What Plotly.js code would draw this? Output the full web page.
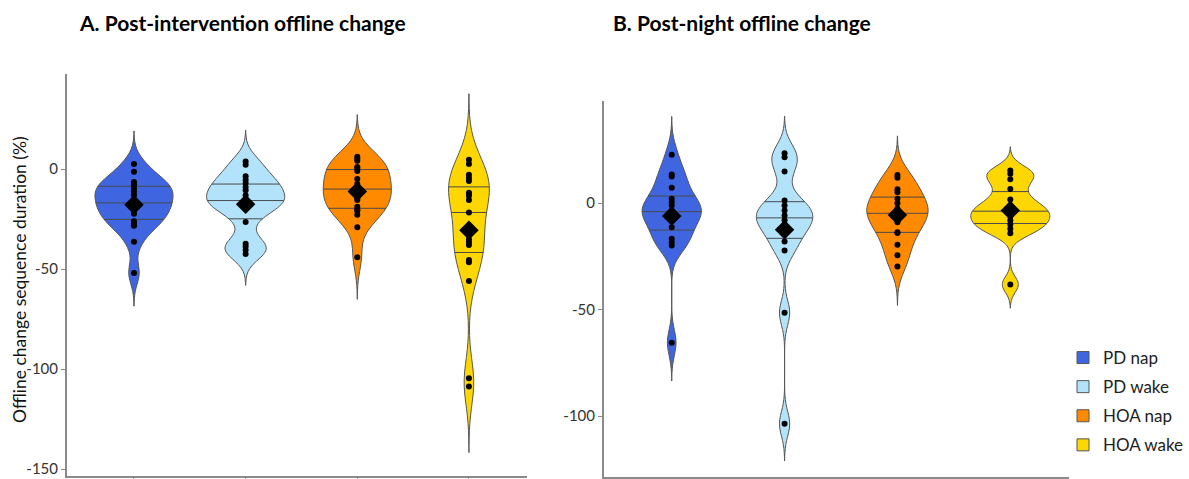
<!DOCTYPE html>
<html><head><meta charset="utf-8">
<script src="https://cdn.plot.ly/plotly-3.0.1.min.js"></script>
<style>html,body{margin:0;padding:0;background:#fff}</style>
</head><body><div id="chart" style="width:1189px;height:479px"></div>
<script>
// ---- data ----
const groups = ['PD nap', 'PD wake', 'HOA nap', 'HOA wake'];
const colors = ['#3F66E0', '#B3E3FB', '#FF8A00', '#FFD700'];

// Panel A: Post-intervention offline change (%)
const A_PDnap  = [2.5, -1.3, -6.5, -7.3, -8.2, -9.8, -11.4, -13.1, -16.3, -17.5, -18.8, -20.5, -22.4, -26.1, -27.5, -28.3, -36.3, -52.0];
const A_PDwake = [3.8, 2.1, -3.6, -5.4, -7.0, -9.0, -10.6, -13.1, -15.0, -16.5, -17.5, -18.5, -20.0, -26.5, -37.3, -38.7, -40.5, -42.5];
const A_HOAnap = [6.2, 5.2, 4.1, 1.0, 0.5, -1.0, -5.0, -7.5, -9.0, -10.0, -11.0, -14.7, -15.5, -18.8, -20.4, -20.9, -22.9, -29.1, -44.1];
const A_HOAwake = [4.6, 2.5, -2.9, -4.5, -6.0, -11.8, -12.5, -13.4, -15.5, -21.7, -29.0, -35.1, -36.4, -37.9, -45.5, -46.6, -55.9, -104.6, -108.7];

// Panel B: Post-night offline change (%)
const B_PDnap  = [22.7, 13.5, 12.5, 7.2, 2.1, 0.5, -1.1, -3.4, -4.5, -6.6, -7.8, -11.3, -16.7, -18.3, -19.9, -65.5];
const B_PDwake = [23.5, 21.6, 14.9, 1.3, -1.1, -3.4, -5.8, -8.0, -10.0, -12.0, -18.0, -22.2, -51.5, -103.6];
const B_HOAnap = [13.3, 12.0, 6.5, 5.2, 2.1, 0.0, -2.5, -4.0, -5.5, -6.5, -8.9, -13.6, -14.0, -19.5, -24.4, -29.7];
const B_HOAwake = [15.4, 13.8, 11.3, 6.7, 1.7, -1.0, -3.0, -4.5, -6.2, -8.1, -10.0, -12.0, -14.1, -38.2];

// kernel bandwidths per violin (smoothing setting)
const bwA = [5.5, 5.2, 7.0, 11.0];
const bwB = [6.0, 5.8, 6.1, 3.7];

// ---- helpers ----
function mean(a) { return a.reduce((s, v) => s + v, 0) / a.length; }
function quantile(a, p) {
  const s = a.slice().sort((x, y) => x - y);
  const pos = p * (s.length - 1), lo = Math.floor(pos), hi = Math.ceil(pos);
  return s[lo] + (s[hi] - s[lo]) * (pos - lo);
}
function kde(vals, bw) {
  const f = 1 / (vals.length * bw * Math.sqrt(2 * Math.PI));
  return x => vals.reduce((s, v) => { const u = (x - v) / bw; return s + Math.exp(-0.5 * u * u); }, 0) * f;
}

const GAP = 0.3;                       // violingap
const HALF = 0.5 * (1 - GAP);          // half width of the widest violin (x units)

function panelTraces(sets, bws, xa, ya, sg, showLegend) {
  const traces = [];
  let gmax = 0;
  sets.forEach((d, i) => {
    const k = kde(d, bws[i]);
    const lo = Math.min(...d) - 3 * bws[i], hi = Math.max(...d) + 3 * bws[i];
    for (let t = lo; t <= hi; t += bws[i] / 20) gmax = Math.max(gmax, k(t));
  });
  sets.forEach((d, i) => {
    traces.push({
      type: 'violin', x0: i, y: d, name: groups[i],
      xaxis: xa, yaxis: ya,
      fillcolor: colors[i], line: {color: '#555555', width: 1},
      bandwidth: bws[i], spanmode: 'manual',
      span: [Math.min(...d) - 3 * bws[i], Math.max(...d) + 3 * bws[i]],
      scalegroup: sg, scalemode: 'width',
      points: false, box: {visible: false}, meanline: {visible: false},
      opacity: 1, showlegend: showLegend, legendgroup: groups[i],
      hoverinfo: 'skip'
    });
  });
  const qx = [], qy = [];
  sets.forEach((d, i) => {
    const k = kde(d, bws[i]);
    [0.25, 0.5, 0.75].forEach(p => {
      const q = quantile(d, p);
      const hw = HALF * k(q) / gmax;
      qx.push(i - hw, i + hw, null); qy.push(q, q, null);
    });
  });
  traces.push({type: 'scatter', mode: 'lines', x: qx, y: qy, xaxis: xa, yaxis: ya,
    line: {color: '#4a4a4a', width: 1}, showlegend: false, hoverinfo: 'skip'});
  const px = [], py = [];
  sets.forEach((d, i) => d.forEach(v => { px.push(i); py.push(v); }));
  traces.push({type: 'scatter', mode: 'markers', x: px, y: py, xaxis: xa, yaxis: ya,
    marker: {color: '#000', size: 6}, showlegend: false});
  traces.push({type: 'scatter', mode: 'markers', x: sets.map((d, i) => i), y: sets.map(mean),
    xaxis: xa, yaxis: ya, marker: {color: '#000', size: 15, symbol: 'diamond'}, showlegend: false});
  return traces;
}

const data = [
  ...panelTraces([A_PDnap, A_PDwake, A_HOAnap, A_HOAwake], bwA, 'x', 'y', 'A', true),
  ...panelTraces([B_PDnap, B_PDwake, B_HOAnap, B_HOAwake], bwB, 'x2', 'y2', 'B', false)
];

const W = 1189, H = 479;
const xax = (l, r) => ({
  domain: [l / W, r / W], type: 'linear', range: [-0.6, 3.52],
  showline: true, linecolor: '#8a8a8a', linewidth: 2,
  ticks: 'outside', tickvals: [0, 1, 2, 3], ticktext: ['', '', '', ''],
  ticklen: 4, tickcolor: '#8a8a8a', showgrid: false, zeroline: false, fixedrange: true
});
const yax = (top, bot, range, tv) => ({
  domain: [(H - bot) / H, (H - top) / H], range: range,
  showline: true, linecolor: '#8a8a8a', linewidth: 2,
  ticks: 'outside', ticklen: 4, tickcolor: '#8a8a8a',
  tickvals: tv, ticktext: tv.map(String), ticklabeloverflow: 'allow',
  tickfont: {family: 'Lato, sans-serif', size: 15, color: '#333'},
  showgrid: false, zeroline: false
});

const layout = {
  width: W, height: H,
  margin: {l: 0, r: 0, t: 0, b: 0},
  paper_bgcolor: '#fff', plot_bgcolor: '#fff',
  violinmode: 'overlay', violingap: GAP, violingroupgap: 0,
  xaxis: Object.assign(xax(67, 527), {anchor: 'y'}),
  yaxis: Object.assign(yax(74, 476, [-153.4, 47.5], [-150, -100, -50, 0]), {anchor: 'x'}),
  xaxis2: Object.assign(xax(604, 1069), {anchor: 'y2'}),
  yaxis2: Object.assign(yax(101, 477, [-128.6, 48], [-100, -50, 0]), {anchor: 'x2'}),
  showlegend: true,
  legend: {x: 1063 / W, y: (H - 340) / H, xanchor: 'left', yanchor: 'top',
    font: {family: 'Lato, sans-serif', size: 17, color: '#222'},
    tracegroupgap: 4, bgcolor: 'rgba(0,0,0,0)', itemclick: false},
  annotations: [
    {text: '<b>A. Post-intervention offline change</b>', xref: 'paper', yref: 'paper',
     x: 77 / W, y: (H - 23) / H, xanchor: 'left', yanchor: 'middle', showarrow: false,
     font: {family: 'Lato, sans-serif', size: 21, color: '#000'}},
    {text: '<b>B. Post-night offline change</b>', xref: 'paper', yref: 'paper',
     x: 611 / W, y: (H - 23) / H, xanchor: 'left', yanchor: 'middle', showarrow: false,
     font: {family: 'Lato, sans-serif', size: 21, color: '#000'}},
    {text: 'Offline change sequence duration (%)', xref: 'paper', yref: 'paper',
     x: 19 / W, y: (H - 280) / H, xanchor: 'center', yanchor: 'middle', textangle: -90,
     showarrow: false, font: {family: 'Lato, sans-serif', size: 17.5, color: '#111'}}
  ]
};

Plotly.newPlot('chart', data, layout, {displayModeBar: false, staticPlot: true});
</script></body></html>
